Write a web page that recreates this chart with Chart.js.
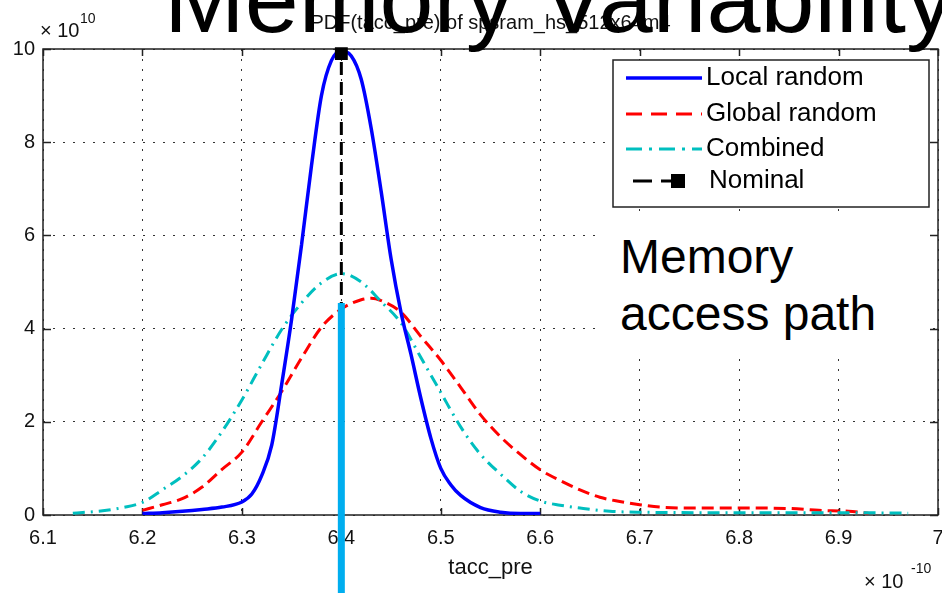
<!DOCTYPE html>
<html>
<head>
<meta charset="utf-8">
<script src="https://cdn.jsdelivr.net/npm/chart.js@4.4.1/dist/chart.umd.min.js"></script>
<style>
  body { margin: 0; background: #fff; }
  #wrap { position: relative; width: 942px; height: 593px; overflow: hidden; background: #fff; }
  #c { position: absolute; left: 0; top: 0; }
  .slideTitle {
    position: absolute; left: 164px; top: -50px; white-space: nowrap;
    font: 97px/97px "Liberation Sans", Arial, sans-serif; color: #000;
  }
  .noteBox { position: absolute; left: 598px; top: 215px; width: 331px; height: 140px; background: #fff; }
  .note {
    position: absolute; left: 620px; top: 228px; white-space: nowrap;
    font: 48px/57px "Liberation Sans", Arial, sans-serif; color: #000;
  }
</style>
</head>
<body>
<div id="wrap">
  <canvas id="c" width="942" height="593"></canvas>
  <div class="noteBox"></div>
  <div class="note">Memory<br>access path</div>
  <div class="slideTitle">Memory Variability</div>
</div>
<script>
// tick labels
const xTicks = [6.1, 6.2, 6.3, 6.4, 6.5, 6.6, 6.7, 6.8, 6.9, 7.0];
const yTicks = [0, 2, 4, 6, 8, 10];

// PDF values (x in 1e-10 s, y in 1e10)
const localX = [6.20, 6.22, 6.24, 6.26, 6.28, 6.30, 6.31, 6.32, 6.33, 6.34, 6.35, 6.36, 6.37, 6.38, 6.39, 6.40,
                6.41, 6.42, 6.43, 6.44, 6.45, 6.46, 6.47, 6.48, 6.49, 6.50, 6.51, 6.52, 6.54, 6.56, 6.58, 6.60];
const localY = [0.03, 0.05, 0.08, 0.12, 0.17, 0.28, 0.45, 0.85, 1.50, 2.80, 4.20, 5.80, 7.50, 9.00, 9.75, 9.95,
                9.85, 9.35, 8.30, 6.95, 5.50, 4.35, 3.45, 2.50, 1.65, 1.00, 0.65, 0.42, 0.16, 0.06, 0.03, 0.03];

const globalX = [6.20, 6.22, 6.24, 6.26, 6.28, 6.30, 6.32, 6.34, 6.36, 6.38, 6.40, 6.42, 6.43, 6.44, 6.46, 6.48,
                 6.50, 6.52, 6.54, 6.56, 6.58, 6.60, 6.62, 6.64, 6.66, 6.68, 6.70, 6.72, 6.75, 6.80, 6.85, 6.88, 6.91, 6.93];
const globalY = [0.10, 0.22, 0.35, 0.60, 0.98, 1.35, 2.00, 2.65, 3.37, 4.03, 4.42, 4.62, 4.65, 4.60, 4.35, 3.83,
                 3.32, 2.74, 2.15, 1.68, 1.30, 0.97, 0.74, 0.54, 0.38, 0.29, 0.22, 0.17, 0.15, 0.15, 0.14, 0.10, 0.08, 0.04];

const combinedX = [6.13, 6.16, 6.18, 6.20, 6.22, 6.24, 6.26, 6.28, 6.30, 6.32, 6.34, 6.36, 6.38, 6.40, 6.42, 6.44,
                   6.46, 6.48, 6.50, 6.52, 6.54, 6.56, 6.58, 6.60, 6.62, 6.64, 6.67, 6.70, 6.80, 6.90, 6.97];
const combinedY = [0.04, 0.09, 0.16, 0.27, 0.54, 0.83, 1.22, 1.79, 2.47, 3.24, 3.98, 4.55, 4.98, 5.18, 5.00, 4.58,
                   4.12, 3.38, 2.63, 1.89, 1.30, 0.88, 0.51, 0.30, 0.21, 0.15, 0.08, 0.06, 0.05, 0.05, 0.04];

const nominalX = [6.4, 6.4];
const nominalY = [0, 9.9];

// slide annotation (light blue bar under the nominal point)
const markX = [6.4, 6.4];
const markY = [4.55, -2];

const toPts = (xs, ys) => xs.map((x, i) => ({ x: x, y: ys[i] }));
const FONT = '"Liberation Sans", Arial, sans-serif';

const frame = {
  id: 'frame',
  beforeDatasetsDraw(chart) {
    const { ctx, chartArea: a, scales } = chart;
    ctx.save();
    ctx.strokeStyle = '#222';
    ctx.lineWidth = 1.5;
    ctx.beginPath();
    xTicks.forEach(v => {
      const px = Math.round(scales.x.getPixelForValue(v)) + 0.5;
      ctx.moveTo(px, a.bottom); ctx.lineTo(px, a.bottom - 7);
      ctx.moveTo(px, a.top); ctx.lineTo(px, a.top + 7);
    });
    yTicks.forEach(v => {
      const py = Math.round(scales.y.getPixelForValue(v)) + 0.5;
      ctx.moveTo(a.left, py); ctx.lineTo(a.left + 8, py);
      ctx.moveTo(a.right, py); ctx.lineTo(a.right - 8, py);
    });
    ctx.stroke();
    ctx.strokeRect(a.left, a.top, a.right - a.left, a.bottom - a.top);

    ctx.fillStyle = '#111';
    ctx.textBaseline = 'alphabetic';
    ctx.textAlign = 'center';
    ctx.font = '20px ' + FONT;
    ctx.fillText('PDF(tacc_pre) of spsram_hs_512x64m4', (a.left + a.right) / 2, 29);
    ctx.font = '22px ' + FONT;
    ctx.fillText('tacc_pre', (a.left + a.right) / 2, 574);

    ctx.textAlign = 'left';
    ctx.font = '20px ' + FONT;
    ctx.fillText('\u00d7 10', 40, 37);
    ctx.font = '14px ' + FONT;
    ctx.fillText('10', 80, 23);
    ctx.font = '20px ' + FONT;
    ctx.fillText('\u00d7 10', 864, 588);
    ctx.font = '14px ' + FONT;
    ctx.fillText('-10', 911, 573);
    ctx.restore();
  },
  afterDraw(chart) {
    const { ctx } = chart;
    ctx.save();
    ctx.fillStyle = '#fff';
    ctx.fillRect(613, 60, 316, 147);
    ctx.strokeStyle = '#222';
    ctx.lineWidth = 1.5;
    ctx.strokeRect(613, 60, 316, 147);
    const rows = [78, 114, 149, 181];
    const entries = chart.data.datasets.filter(d => d.inLegend).sort((p, q) => p.legendRank - q.legendRank);
    entries.forEach((d, i) => {
      const y = rows[i];
      ctx.strokeStyle = d.borderColor;
      ctx.lineWidth = d.borderWidth;
      ctx.setLineDash(d.legendDash);
      ctx.beginPath();
      if (d.label === 'Nominal') {
        ctx.moveTo(633, y); ctx.lineTo(678, y);
      } else {
        ctx.moveTo(626, y); ctx.lineTo(702, y);
      }
      ctx.stroke();
      ctx.setLineDash([]);
      if (d.label === 'Nominal') {
        ctx.fillStyle = '#000';
        ctx.fillRect(671, y - 7, 14, 14);
      }
      ctx.fillStyle = '#000';
      ctx.font = '26px ' + FONT;
      ctx.textBaseline = 'middle';
      ctx.textAlign = 'left';
      ctx.fillText(d.label, d.label === 'Nominal' ? 709 : 706, y);
    });
    ctx.restore();
  }
};

new Chart(document.getElementById('c'), {
  type: 'line',
  data: {
    datasets: [
      {
        label: 'mark', data: toPts(markX, markY), borderColor: '#00aeef', borderWidth: 7,
        pointRadius: 0, clip: false, borderCapStyle: 'butt', inLegend: false
      },
      {
        label: 'Nominal', data: toPts(nominalX, nominalY), borderColor: '#000', borderWidth: 3,
        borderDash: [13, 7], pointStyle: 'rect', pointRadius: [0, 7], pointBackgroundColor: '#000',
        pointBorderColor: '#000', clip: false, inLegend: true, legendRank: 3, legendDash: [19, 9]
      },
      {
        label: 'Local random', data: toPts(localX, localY), borderColor: '#0000ff', borderWidth: 3.5,
        pointRadius: 0, cubicInterpolationMode: 'monotone', inLegend: true, legendRank: 0, legendDash: []
      },
      {
        label: 'Combined', data: toPts(combinedX, combinedY), borderColor: '#00bfbf', borderWidth: 3,
        borderDash: [12, 6, 2, 6], pointRadius: 0, cubicInterpolationMode: 'monotone',
        inLegend: true, legendRank: 2, legendDash: [16, 7, 3, 7]
      },
      {
        label: 'Global random', data: toPts(globalX, globalY), borderColor: '#ff0000', borderWidth: 3,
        borderDash: [12, 6], pointRadius: 0, cubicInterpolationMode: 'monotone',
        inLegend: true, legendRank: 1, legendDash: [16, 9]
      }
    ]
  },
  options: {
    responsive: false,
    animation: false,
    layout: { autoPadding: false, padding: { top: 49, right: 4, left: 0, bottom: 0 } },
    plugins: { legend: { display: false }, tooltip: { enabled: false } },
    scales: {
      x: {
        type: 'linear', min: 6.1, max: 7.0,
        afterBuildTicks: s => { s.ticks = xTicks.map(v => ({ value: v })); },
        afterFit: s => { s.height = 78; s.paddingLeft = 0; s.paddingRight = 0; },
        ticks: {
          callback: v => String(+Number(v).toFixed(1)),
          font: { family: FONT, size: 20 }, color: '#111', padding: 11, maxRotation: 0, autoSkip: false
        },
        grid: { color: '#333', lineWidth: 1, drawTicks: false },
        border: { display: false, dash: [2, 8] }
      },
      y: {
        min: 0, max: 10,
        afterBuildTicks: s => { s.ticks = yTicks.map(v => ({ value: v })); },
        afterFit: s => { s.width = 43; s.paddingTop = 0; s.paddingBottom = 0; },
        ticks: { font: { family: FONT, size: 20 }, color: '#111', padding: 8 },
        grid: { color: '#333', lineWidth: 1, drawTicks: false },
        border: { display: false, dash: [2, 8] }
      }
    }
  },
  plugins: [frame]
});
</script>
</body>
</html>
